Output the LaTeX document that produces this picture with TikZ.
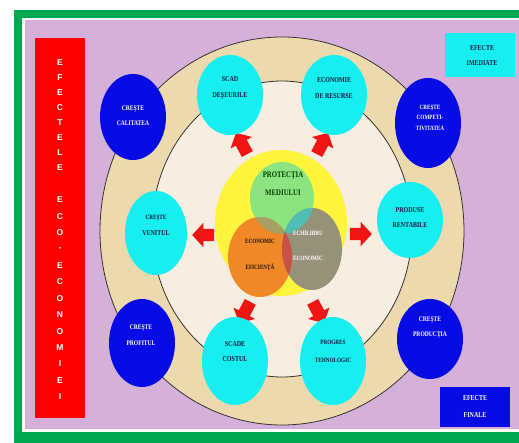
\documentclass[tikz,border=0pt]{standalone}
\usepackage{fontspec}
\setmainfont{Liberation Serif}
\newfontfamily\cf[FakeStretch=0.8]{Liberation Serif}
\newfontfamily\af{Liberation Sans}
\usetikzlibrary{shapes.geometric,shapes.arrows}
\definecolor{lilac}{RGB}{213,176,216}
\definecolor{frame}{RGB}{0,168,80}
\definecolor{tanring}{RGB}{237,217,174}
\definecolor{cream}{RGB}{247,237,224}
\definecolor{cyanell}{RGB}{22,238,240}
\definecolor{blueell}{RGB}{8,12,228}
\definecolor{navy}{RGB}{12,26,60}
\definecolor{yel}{RGB}{255,244,60}
\definecolor{lgreen}{RGB}{140,228,128}
\definecolor{orng}{RGB}{240,136,40}
\definecolor{grayv}{RGB}{150,146,122}
\definecolor{ovGO}{RGB}{166,160,100}
\definecolor{ovGG}{RGB}{80,190,180}
\definecolor{ovOG}{RGB}{200,82,72}
\definecolor{arred}{RGB}{240,20,20}
\begin{document}
\begin{tikzpicture}[x=1pt,y=-1pt,
  ell/.style={ellipse,inner sep=0pt,minimum width=#1},
  cyanE/.style={ell=66pt,fill=cyanell,minimum height=82pt},
  blueE/.style={ell=66pt,fill=blueell,minimum height=86pt},
  ctext/.style={align=center,text=navy,font=\cf\bfseries\fontsize{7.5}{15.5}\selectfont},
  btext/.style={align=center,text=white,font=\cf\bfseries\fontsize{7}{15.5}\selectfont},
  redarr/.style={single arrow,fill=arred,inner xsep=0pt,inner ysep=6pt,minimum height=24pt,minimum width=24pt,single arrow head extend=6pt,single arrow tip angle=95},
  vlet/.style={text=white,font=\af\bfseries\fontsize{8.5}{9}\selectfont,inner sep=0pt}]
\useasboundingbox (0,0) rectangle (519,443);
\fill[white] (0,0) rectangle (519,443);
\fill[frame] (14,10) rectangle (520,444);
\fill[white] (22,18) rectangle (520,432);
\fill[lilac] (25,20) rectangle (520,429);
% side bar
\node[fill=red,inner sep=0pt,minimum width=50pt,minimum height=380pt] (sidebar) at (60,228) {};
\foreach \l [count=\i from 0] in {E,F,E,C,T,E,L,E}
  \node[vlet] (a\i) at (60,{63+14.9*\i}) {\l};
\foreach \l [count=\i from 0] in {E,C,O,-,E,C,O,N,O,M,I,E,I}
  \node[vlet] (b\i) at (60,{200+16.4*\i}) {\l};
% rings
\node[ellipse,draw=black!80,line width=0.8pt,fill=tanring,inner sep=0pt,minimum width=364pt,minimum height=388pt] (outer) at (282,231) {};
\node[ellipse,draw=black!80,line width=0.8pt,fill=cream,inner sep=0pt,minimum width=260pt,minimum height=296pt] (inner) at (282,229) {};
% arrows
\node[redarr,rotate=180,minimum height=22pt] (arL) at (206,235) {};
\node[redarr,rotate=0,minimum height=22pt] (arR) at (358,234) {};
\node[redarr,rotate=118] (arUL) at (243,146) {};
\node[redarr,rotate=62] (arUR) at (321,146) {};
\node[redarr,rotate=242] (arDL) at (246,310) {};
\node[redarr,rotate=298] (arDR) at (317,310) {};
% venn
\node[ell=132pt,fill=yel,minimum height=146pt] (yellow) at (281,223) {};
\node[ell=64pt,fill=lgreen,minimum height=72pt] (gr) at (282,198) {};
\node[ell=64pt,fill=orng,minimum height=80pt] (or) at (260,257) {};
\node[ell=60pt,fill=grayv,minimum height=82pt] (gy) at (312,249) {};
\begin{scope}
  \clip (282,198) ellipse [x radius=32pt,y radius=36pt];
  \fill[ovGO] (260,257) ellipse [x radius=32pt,y radius=40pt];
  \fill[ovGG] (312,249) ellipse [x radius=30pt,y radius=41pt];
\end{scope}
\begin{scope}
  \clip (260,257) ellipse [x radius=32pt,y radius=40pt];
  \fill[ovOG] (312,249) ellipse [x radius=30pt,y radius=41pt];
\end{scope}
\node[align=center,text=black!75!green,font=\cf\bfseries\fontsize{8.5}{18}\selectfont] (tprot) at (283,184) {PROTECŢIA\\MEDIULUI};
\node[align=center,text=black!85!brown,font=\cf\bfseries\fontsize{6.5}{26}\selectfont] (teco) at (260,255) {ECONOMIC\\EFICIENŢĂ};
\node[align=center,text=white,font=\cf\bfseries\fontsize{6.5}{25}\selectfont] (tech) at (308,245.5) {ECHILIBRU\\ECONOMIC};
% cyan ellipses
\node[cyanE,minimum height=80pt] (scad) at (230,95) {};
\node[cyanE,minimum height=80pt] (econ) at (334,95) {};
\node[cyanE,minimum width=62pt,minimum height=84pt] (venit) at (156,233) {};
\node[cyanE,minimum height=76pt] (produse) at (410,220) {};
\node[cyanE,minimum height=88pt] (costul) at (235,361) {};
\node[cyanE,minimum height=88pt] (progres) at (333,361) {};
% blue ellipses
\node[blueE,minimum height=86pt] (calit) at (133,117) {};
\node[blueE,minimum height=88pt] (profit) at (142,343) {};
\node[blueE,minimum height=90pt] (compet) at (428,123) {};
\node[blueE,minimum height=80pt] (product) at (430,339) {};
% boxes
\node[fill=cyanell,inner sep=0pt,minimum width=70pt,minimum height=44pt] (imed) at (480,55) {};
\node[fill=blueell,inner sep=0pt,minimum width=70pt,minimum height=40pt] (finale) at (475,407) {};
% texts
\node[ctext] (tscad) at (230,88) {SCAD\\DEŞEURILE};
\node[ctext] (tecon) at (334,88) {ECONOMIE\\DE RESURSE};
\node[ctext] (tvenit) at (156,225.5) {{\fontsize{6.5}{15}\selectfont CREŞTE}\\VENITUL};
\node[ctext] (tprod) at (410,217.5) {PRODUSE\\RENTABILE};
\node[ctext] (tcost) at (235,351.5) {SCADE\\COSTUL};
\node[ctext,font=\cf\bfseries\fontsize{6.5}{18}\selectfont] (tprog) at (333,351) {PROGRES\\TEHNOLOGIC};
\node[btext] (tcalit) at (133,115.5) {CREŞTE\\CALITATEA};
\node[btext] (tprofit) at (141,335) {CREŞTE\\PROFITUL};
\node[btext,font=\cf\bfseries\fontsize{6.5}{10.5}\selectfont] (tcompet) at (430,117.5) {CREŞTE\\COMPETI-\\TIVITATEA};
\node[btext] (tproduct) at (430,327.5) {CREŞTE\\PRODUCŢIA};
\node[ctext] (timed) at (482,55.5) {EFECTE\\IMEDIATE};
\node[btext,font=\cf\bfseries\fontsize{7.5}{17}\selectfont] (tfin) at (475,406.5) {EFECTE\\FINALE};
\end{tikzpicture}
\end{document}
